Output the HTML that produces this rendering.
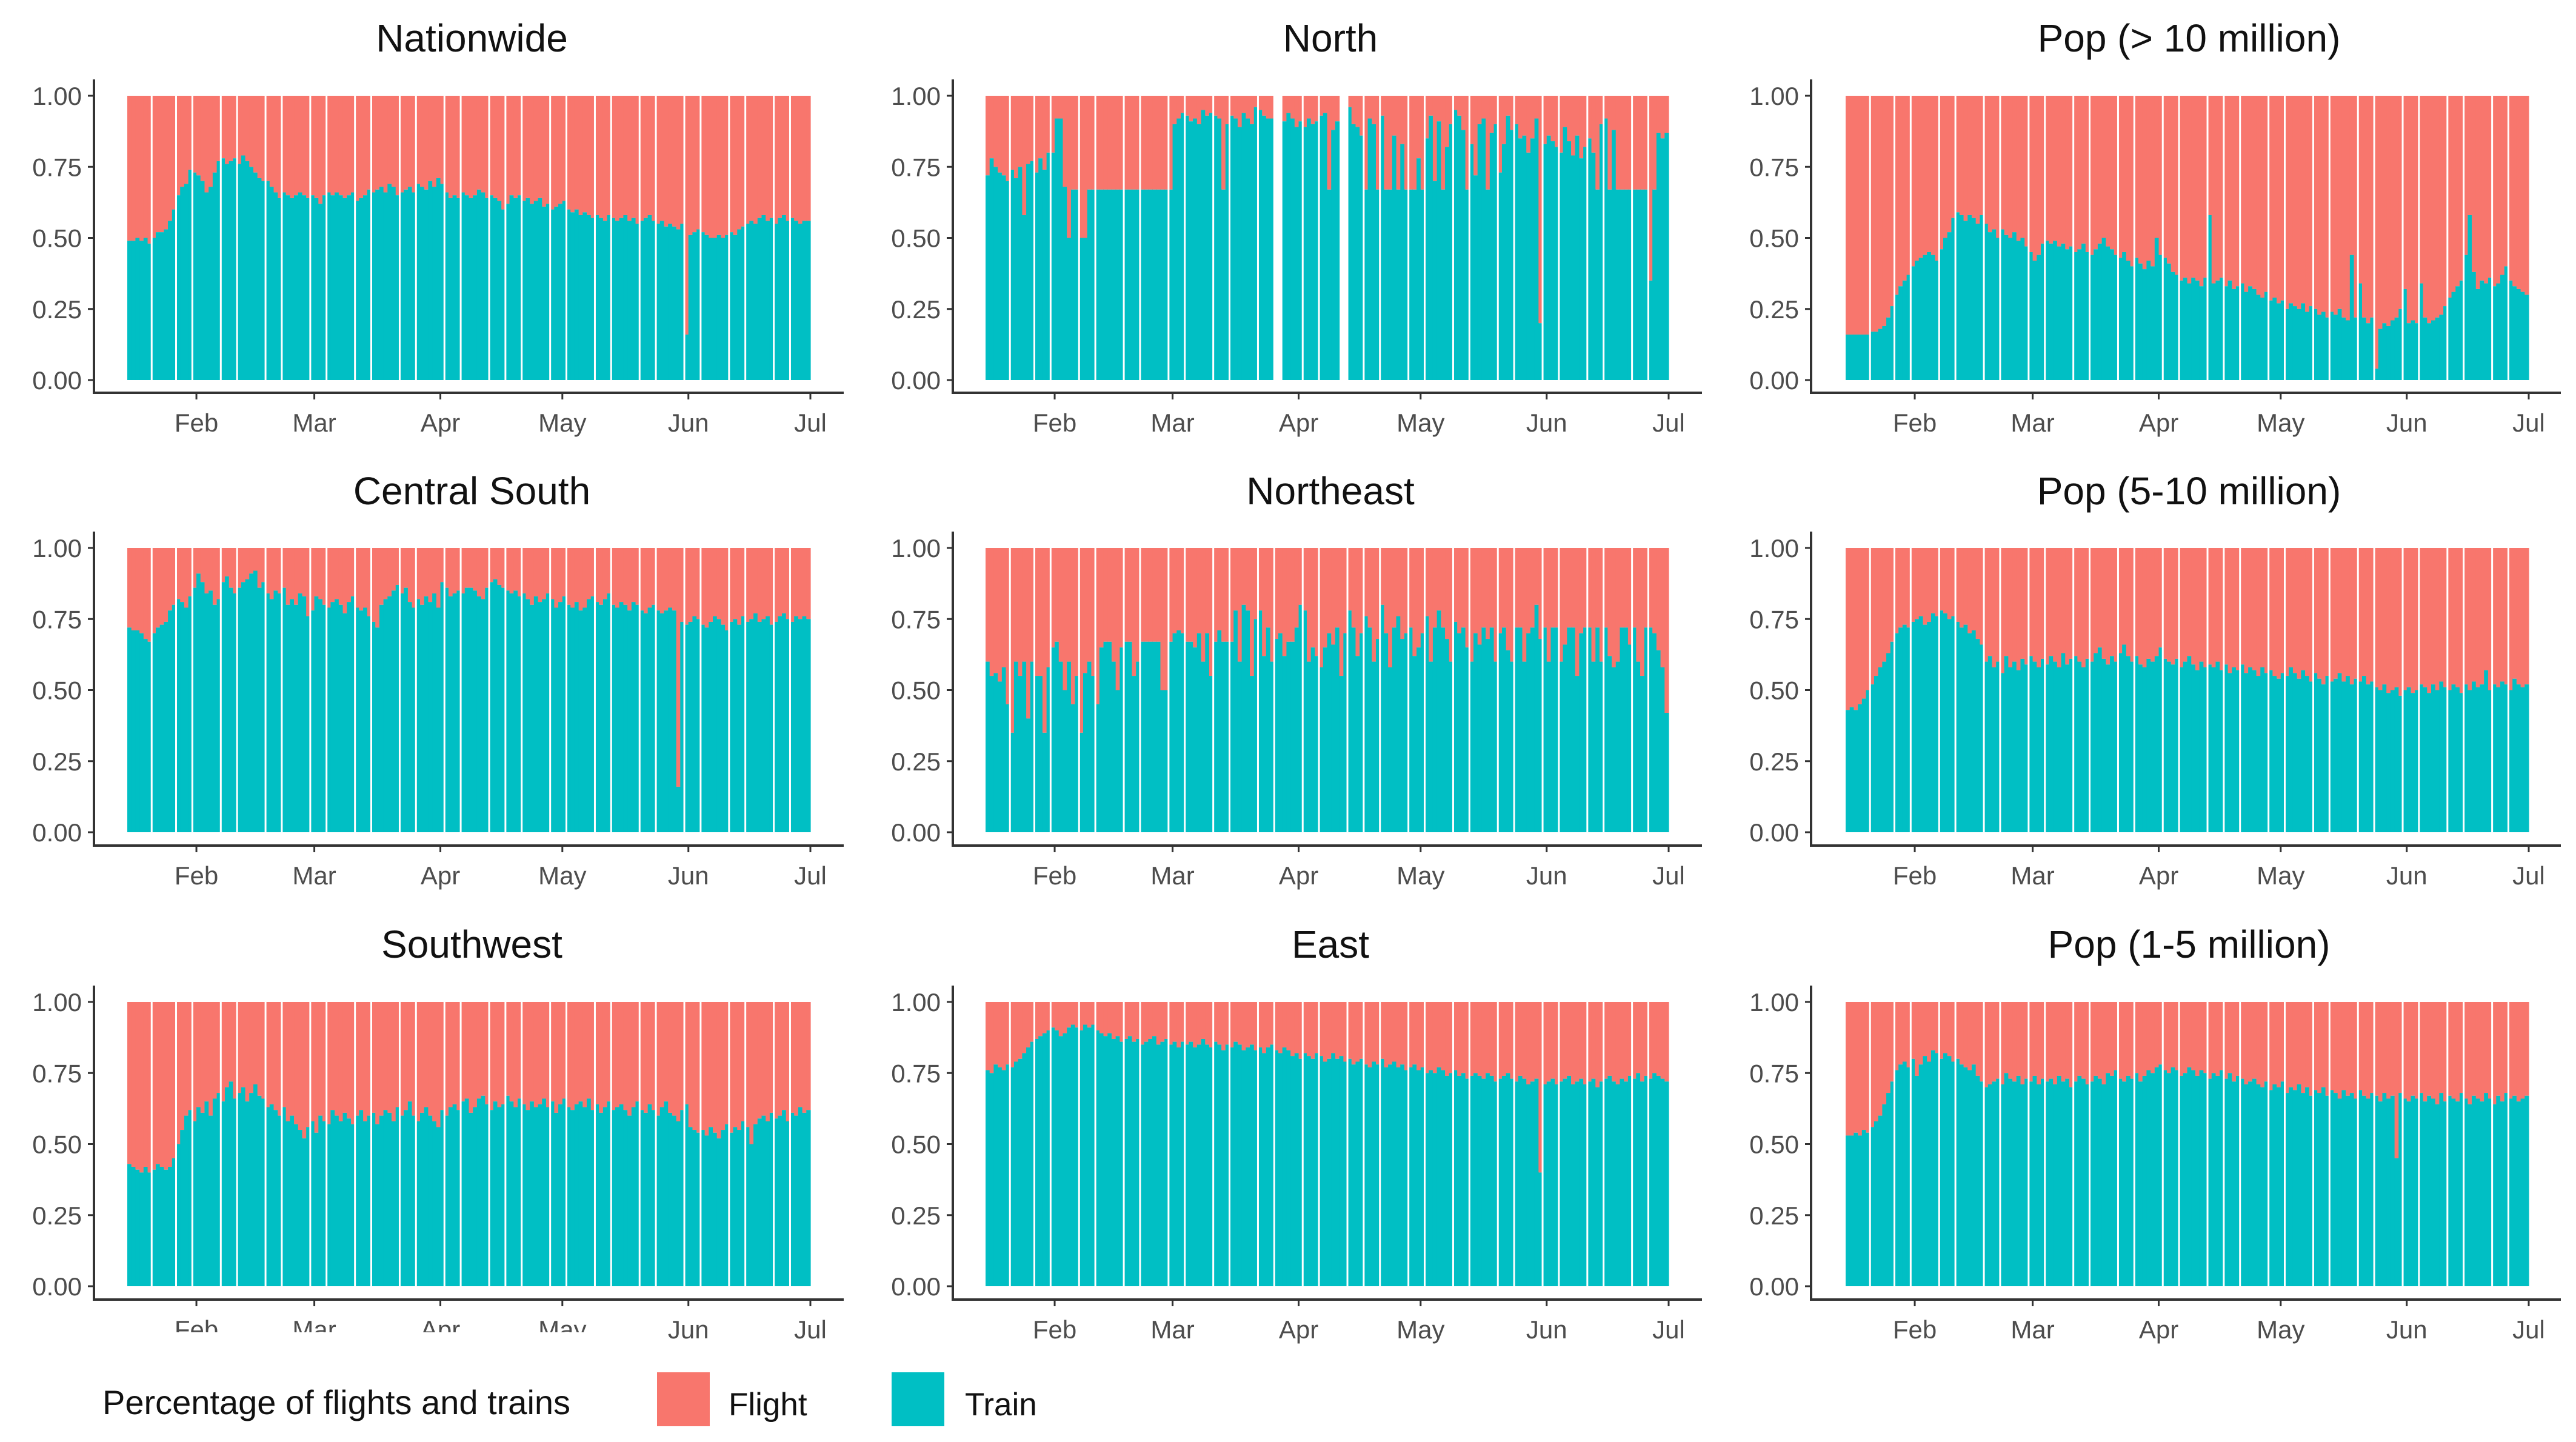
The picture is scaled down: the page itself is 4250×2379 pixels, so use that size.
<!DOCTYPE html>
<html><head><meta charset="utf-8">
<style>
html,body{margin:0;padding:0;background:#fff;}
svg{display:block;font-family:"Liberation Sans",Arial,sans-serif;}
</style></head>
<body>
<svg id="chart" width="4250" height="2379" viewBox="0 0 4250 2379" xmlns="http://www.w3.org/2000/svg">
<g id="panels"></g>
<g id="legend">
  <text x="169" y="2333" font-size="56" fill="#111">Percentage of flights and trains</text>
  <rect x="1084" y="2264" width="87" height="89" fill="#F8766D"/>
  <text x="1202" y="2335" font-size="53" fill="#111">Flight</text>
  <rect x="1471" y="2264" width="87" height="89" fill="#00BFC4"/>
  <text x="1592" y="2335" font-size="53" fill="#111">Train</text>
</g>
</svg>
<script>
const panelTitles = ["Nationwide","North","Pop (> 10 million)","Central South","Northeast","Pop (5-10 million)","Southwest","East","Pop (1-5 million)"];
const monthLabels = ["Feb","Mar","Apr","May","Jun","Jul"];
const monthDayIndex = [17,46,77,107,138,168];
const yTickValues = [0,0.25,0.5,0.75,1];
const yTickLabels = ["0.00","0.25","0.50","0.75","1.00"];
const gapDays = [6,12,16,23,27,34,38,45,49,56,60,67,71,78,82,89,93,97,104,108,115,119,126,130,137,141,148,152,159,163];

const trainNationwide = [.49,.49,.50,.49,.50,.48,.50,.52,.52,.53,.56,.60,.65,.68,.69,.74,.73,.72,.70,.66,.68,.73,.77,.78,.76,.77,.78,.76,.79,.77,.75,.73,.71,.70,.70,.68,.66,.64,.66,.65,.64,.65,.66,.65,.64,.65,.64,.62,.65,.66,.65,.66,.65,.64,.65,.66,.63,.64,.65,.67,.66,.67,.68,.66,.69,.68,.65,.66,.67,.68,.66,.69,.68,.67,.70,.68,.71,.69,.66,.64,.65,.64,.66,.65,.64,.65,.67,.66,.64,.65,.64,.63,.60,.62,.65,.64,.65,.63,.64,.62,.63,.64,.61,.62,.60,.61,.62,.63,.60,.59,.60,.58,.59,.58,.57,.58,.57,.56,.58,.57,.56,.57,.58,.56,.57,.55,.56,.57,.58,.56,.55,.56,.54,.55,.54,.53,.55,.16,.51,.52,.53,.52,.51,.50,.50,.51,.50,.51,.52,.51,.53,.54,.55,.56,.55,.57,.58,.56,.57,.55,.57,.58,.56,.57,.56,.55,.56,.56];
const trainNorth = [.72,.78,.75,.73,.72,.70,.74,.71,.75,.58,.76,.77,.73,.78,.74,.80,.80,.92,.92,.68,.50,.67,.67,.50,.50,.67,.67,.67,.67,.67,.67,.67,.67,.67,.67,.67,.67,.67,.67,.67,.67,.67,.67,.67,.67,.67,.90,.92,.94,.93,.91,.92,.90,.95,.93,.94,.93,.92,.67,.90,.93,.92,.89,.94,.92,.90,.96,.95,.93,.92,.92,null,null,.91,.94,.92,.89,.91,.89,.92,.90,.91,.93,.94,.67,.88,.91,null,null,.96,.90,.89,.86,.67,.92,.90,.67,.93,.67,.67,.86,.67,.83,.67,.67,.67,.78,.67,.85,.93,.70,.91,.67,.82,.90,.95,.93,.88,.67,.83,.72,.90,.92,.67,.87,.90,.73,.83,.93,.88,.90,.85,.86,.80,.85,.92,.20,.83,.86,.84,.82,.80,.89,.84,.79,.86,.78,.82,.85,.80,.67,.90,.92,.67,.88,.67,.67,.67,.67,.67,.67,.67,.67,.35,.67,.87,.85,.87];
const trainPopOver10 = [.16,.16,.16,.16,.16,.16,.17,.17,.18,.19,.22,.26,.30,.33,.35,.37,.40,.42,.43,.44,.45,.44,.42,.46,.50,.52,.57,.59,.58,.56,.58,.57,.55,.58,.55,.52,.53,.50,.53,.51,.50,.52,.49,.50,.47,.45,.42,.44,.48,.49,.48,.49,.47,.48,.46,.47,.45,.46,.48,.45,.44,.46,.48,.50,.47,.46,.44,.43,.45,.42,.40,.43,.41,.39,.42,.40,.50,.44,.43,.41,.38,.37,.35,.36,.34,.36,.35,.33,.36,.58,.34,.35,.36,.33,.35,.32,.33,.34,.31,.33,.32,.30,.29,.31,.28,.29,.27,.28,.25,.27,.26,.25,.27,.24,.26,.25,.23,.24,.22,.24,.23,.25,.22,.21,.44,.22,.34,.22,.20,.22,.04,.18,.20,.19,.21,.22,.25,.32,.20,.21,.20,.34,.22,.20,.21,.22,.23,.26,.29,.31,.33,.35,.44,.58,.38,.32,.35,.34,.36,.33,.34,.37,.40,.35,.33,.32,.31,.30];
const trainCentralSouth = [.72,.71,.71,.70,.68,.67,.70,.72,.73,.74,.78,.80,.82,.81,.79,.83,.86,.91,.88,.84,.85,.80,.82,.88,.90,.86,.84,.86,.88,.89,.91,.92,.86,.88,.84,.82,.85,.84,.86,.80,.82,.80,.84,.83,.76,.78,.83,.82,.80,.79,.81,.82,.80,.77,.81,.83,.79,.78,.79,.76,.74,.72,.80,.82,.83,.85,.87,.84,.86,.81,.79,.82,.80,.83,.81,.84,.79,.88,.86,.83,.84,.85,.84,.86,.86,.85,.83,.82,.86,.88,.89,.87,.86,.85,.84,.85,.83,.84,.82,.80,.83,.81,.82,.84,.82,.79,.81,.83,.80,.79,.81,.78,.79,.82,.83,.81,.80,.82,.84,.80,.79,.81,.80,.78,.81,.80,.78,.77,.79,.80,.78,.77,.78,.79,.78,.16,.74,.73,.74,.76,.75,.73,.72,.74,.76,.75,.73,.71,.74,.75,.73,.76,.74,.75,.77,.74,.75,.76,.73,.74,.76,.77,.75,.74,.76,.75,.76,.75];
const trainNortheast = [.60,.55,.56,.53,.58,.45,.35,.60,.55,.60,.40,.60,.55,.55,.35,.58,.65,.67,.60,.50,.60,.45,.55,.35,.56,.60,.55,.45,.65,.67,.67,.60,.50,.65,.67,.67,.55,.60,.67,.67,.67,.67,.67,.50,.50,.67,.70,.71,.70,.67,.67,.65,.70,.60,.70,.55,.67,.71,.67,.67,.67,.78,.60,.80,.78,.55,.75,.78,.62,.72,.60,.68,.70,.62,.67,.67,.72,.80,.78,.60,.65,.62,.58,.65,.70,.66,.72,.55,.70,.78,.72,.62,.70,.76,.72,.60,.68,.80,.70,.58,.72,.76,.68,.70,.72,.62,.65,.70,.76,.60,.72,.78,.72,.68,.60,.74,.70,.72,.65,.60,.70,.66,.72,.68,.72,.60,.70,.72,.64,.60,.72,.72,.60,.70,.72,.80,.68,.72,.60,.72,.72,.60,.66,.72,.72,.55,.70,.72,.72,.60,.72,.60,.72,.62,.58,.60,.72,.72,.66,.72,.60,.55,.72,.72,.70,.64,.58,.42];
const trainPop5to10 = [.43,.44,.43,.45,.47,.50,.52,.55,.58,.60,.63,.67,.70,.72,.73,.72,.74,.75,.76,.73,.74,.77,.76,.78,.77,.75,.76,.74,.72,.73,.70,.71,.68,.66,.60,.62,.58,.60,.56,.62,.58,.60,.57,.61,.59,.62,.60,.58,.61,.59,.62,.60,.58,.63,.59,.61,.62,.60,.58,.61,.60,.63,.65,.61,.59,.62,.60,.63,.66,.62,.60,.62,.59,.58,.61,.60,.62,.65,.61,.60,.59,.61,.58,.60,.62,.59,.57,.60,.58,.59,.58,.60,.57,.59,.56,.58,.57,.59,.56,.58,.57,.55,.58,.56,.57,.55,.54,.56,.55,.58,.56,.54,.57,.55,.53,.56,.54,.52,.55,.53,.54,.56,.53,.55,.52,.54,.53,.55,.52,.53,.51,.50,.52,.49,.50,.51,.48,.50,.51,.49,.50,.52,.51,.49,.52,.50,.53,.51,.50,.52,.51,.49,.52,.50,.53,.51,.52,.57,.50,.52,.51,.53,.52,.50,.54,.52,.51,.52];
const trainSouthwest = [.43,.42,.41,.40,.42,.40,.41,.43,.42,.41,.42,.45,.50,.55,.60,.62,.58,.63,.61,.65,.60,.66,.68,.65,.70,.72,.66,.68,.70,.65,.68,.71,.67,.66,.63,.64,.62,.60,.63,.58,.60,.57,.55,.52,.56,.58,.54,.60,.58,.57,.62,.60,.58,.61,.59,.57,.60,.62,.58,.60,.61,.57,.60,.62,.61,.58,.63,.60,.62,.65,.60,.58,.61,.63,.60,.58,.56,.62,.60,.63,.64,.62,.65,.66,.61,.63,.66,.67,.64,.62,.65,.63,.64,.67,.65,.63,.66,.64,.62,.65,.63,.64,.66,.63,.65,.61,.64,.66,.63,.62,.64,.65,.63,.66,.62,.64,.61,.63,.65,.62,.63,.64,.62,.60,.63,.65,.62,.61,.64,.62,.60,.63,.65,.61,.60,.58,.62,.64,.56,.55,.54,.55,.53,.56,.54,.52,.55,.57,.54,.56,.55,.58,.56,.50,.57,.59,.60,.58,.61,.59,.60,.62,.58,.61,.60,.63,.61,.62];
const trainEast = [.76,.75,.78,.77,.76,.78,.77,.79,.80,.82,.84,.86,.87,.88,.89,.90,.91,.90,.88,.89,.91,.92,.91,.90,.92,.91,.92,.90,.89,.88,.89,.87,.88,.86,.87,.88,.86,.87,.85,.86,.87,.88,.85,.86,.87,.85,.86,.84,.86,.85,.86,.84,.85,.87,.85,.84,.86,.85,.83,.85,.84,.86,.85,.83,.84,.85,.83,.84,.82,.84,.85,.83,.82,.84,.83,.81,.82,.80,.82,.81,.80,.82,.81,.79,.80,.82,.80,.81,.79,.80,.78,.79,.80,.78,.77,.79,.78,.80,.77,.78,.79,.77,.78,.76,.77,.78,.76,.77,.75,.76,.75,.77,.76,.74,.75,.76,.74,.75,.73,.74,.75,.74,.73,.75,.74,.72,.73,.74,.75,.73,.72,.74,.73,.71,.72,.73,.40,.71,.72,.73,.71,.72,.73,.74,.71,.72,.73,.71,.72,.73,.70,.72,.73,.74,.72,.71,.73,.72,.74,.73,.75,.72,.74,.73,.75,.74,.73,.72];
const trainPop1to5 = [.53,.53,.54,.53,.55,.54,.56,.58,.60,.64,.68,.72,.76,.78,.79,.77,.80,.74,.78,.81,.79,.83,.82,.80,.82,.81,.79,.80,.78,.77,.76,.78,.74,.72,.70,.71,.72,.73,.71,.75,.73,.72,.74,.71,.73,.72,.74,.71,.73,.72,.73,.71,.74,.72,.73,.70,.72,.74,.73,.71,.72,.74,.73,.71,.75,.74,.76,.73,.72,.74,.73,.75,.72,.74,.76,.75,.77,.78,.76,.75,.77,.76,.74,.75,.77,.76,.74,.76,.75,.73,.75,.74,.76,.73,.75,.72,.74,.73,.71,.72,.73,.71,.70,.72,.69,.71,.70,.72,.68,.70,.69,.71,.68,.70,.67,.69,.68,.70,.67,.69,.68,.66,.69,.67,.68,.66,.69,.67,.66,.68,.67,.65,.68,.66,.67,.45,.68,.66,.65,.67,.66,.68,.65,.67,.66,.64,.68,.65,.67,.66,.65,.68,.66,.64,.67,.66,.65,.68,.66,.64,.67,.65,.68,.66,.67,.65,.66,.67];

const panelSeries = [trainNationwide,trainNorth,trainPopOver10,trainCentralSouth,trainNortheast,trainPop5to10,trainSouthwest,trainEast,trainPop1to5];

const NS="http://www.w3.org/2000/svg";
const root=document.getElementById('panels');
function mk(tag,attrs,parent){const e=document.createElementNS(NS,tag);for(const k in attrs)e.setAttribute(k,attrs[k]);(parent||root).appendChild(e);return e;}

const colAxisX=[155,1572,2988], colBarX0=[210,1626,3045], colAxisEnd=[1392,2808,4225];
const rowY1=[158,904,1653], rowY0=[627,1373,2122], rowAxisY=[648,1395,2144], rowAxisTop=[131,877,1626], rowTick=[712,1459,2208], rowTitle=[85,832,1580];
const nDays=168, dayW=(1337-210)/168;

const slug=s=>s.toLowerCase().replace(/[^a-z0-9]+/g,'-').replace(/^-|-$/g,'');

panelSeries.forEach((vals,p)=>{
  const c=p%3,r=Math.floor(p/3);
  const g=mk('g',{});
  
  
  const x0=colBarX0[c], y0=rowY0[r], y1=rowY1[r];
  const xs=d=>x0+d*dayW;
  const ys=v=>y0-(y0-y1)*v;
  const t=mk('text',{x:(colAxisX[c]+colAxisEnd[c])/2+5,y:rowTitle[r],'text-anchor':'middle','font-size':64,fill:'#111'},g);
  t.textContent=panelTitles[p];
  
  
  vals.forEach((v,d)=>{
    if(v===null)return;
    const fr=mk('rect',{x:xs(d),y:ys(1),width:dayW+0.6,height:ys(v)-ys(1),fill:'#F8766D'},g);
    
    
    const tr=mk('rect',{x:xs(d),y:ys(v),width:dayW+0.6,height:ys(0)-ys(v),fill:'#00BFC4'},g);
    
    
  });
  gapDays.forEach(d=>{
    const gl=mk('rect',{x:xs(d)-1.5,y:ys(1)-1,width:3,height:ys(0)-ys(1)+2,fill:'#fff'},g);
    
    
  });
  const ya=mk('line',{x1:colAxisX[c],y1:rowAxisTop[r],x2:colAxisX[c],y2:rowAxisY[r]+2,stroke:'#333','stroke-width':4},g);
  
  
  const xa=mk('line',{x1:colAxisX[c]-2,y1:rowAxisY[r],x2:colAxisEnd[c],y2:rowAxisY[r],stroke:'#333','stroke-width':4},g);
  
  
  yTickValues.forEach((v,i)=>{
    const tk=mk('line',{x1:colAxisX[c]-10,y1:ys(v),x2:colAxisX[c],y2:ys(v),stroke:'#333','stroke-width':3},g);
    
    
    const tl=mk('text',{x:colAxisX[c]-20,y:ys(v)+15,'text-anchor':'end','font-size':42,fill:'#4d4d4d'},g);
    tl.textContent=yTickLabels[i];
    
    
  });
  monthLabels.forEach((m,i)=>{
    const x=xs(monthDayIndex[i]);
    const tk=mk('line',{x1:x,y1:rowAxisY[r],x2:x,y2:rowAxisY[r]+11,stroke:'#333','stroke-width':3},g);
    
    
    const tl=mk('text',{x:x,y:rowTick[r],'text-anchor':'middle','font-size':42,fill:'#4d4d4d'},g);
    tl.textContent=m;
    
    
    if(p===6 && i<4){ tl.setAttribute('clip-path','url(#clipSW)'); }
  });
});
const defs=mk('defs',{},document.getElementById('chart'));
const cp=mk('clipPath',{id:'clipSW'},defs);
mk('rect',{x:0,y:0,width:1500,height:2198},cp);
</script>
</body></html>
